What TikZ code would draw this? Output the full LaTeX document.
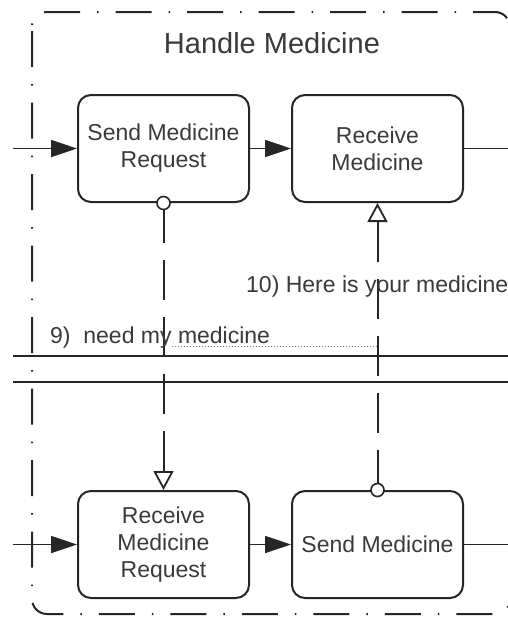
\documentclass[tikz,border=0pt]{standalone}
\usepackage{fontspec}
\setmainfont{Liberation Sans}
\usetikzlibrary{arrows.meta}
\definecolor{ink}{HTML}{262626}
\definecolor{txt}{HTML}{3A3A3A}
\tikzset{
  task/.style={draw=ink, line width=2pt, rounded corners=13pt, minimum width=171pt,
    minimum height=107pt, align=center, font=\fontsize{23}{27}\selectfont, text=txt, inner sep=0pt},
  seqflow/.style={draw=ink, line width=1.8pt, -{Triangle[length=26pt,width=17pt]}},
  plainflow/.style={draw=ink, line width=1.8pt},
  msgflow/.style={draw=ink, line width=2pt, dash pattern=on 40pt off 17pt,
    -{Triangle[open,length=19pt,width=20pt,line width=1.8pt]}},
  msgstart/.style={circle, draw=ink, line width=1.6pt, fill=white, minimum size=13pt, inner sep=0pt},
  lbl/.style={font=\fontsize{23}{27}\selectfont, text=txt, inner sep=0pt},
  poolline/.style={draw=ink, line width=2.2pt},
  groupbox/.style={draw=ink, line width=2pt, rounded corners=15pt,
    dash pattern=on 36pt off 17pt on 1.5pt off 17pt, dash phase=-4pt},
}
\begin{document}
\begin{tikzpicture}[x=1pt, y=-1pt]
  \useasboundingbox[fill=white] (0,0) rectangle (508,619);

  % group frame and its title (right side runs off the page edge)
  \draw[groupbox] (32,12) rectangle (510,614);
  \node[lbl, anchor=base, font=\fontsize{29}{33}\selectfont] (title) at (272,53) {Handle Medicine};

  % pool boundaries
  \coordinate (pa1) at (13,356);
  \coordinate (pa2) at (508,356);
  \coordinate (pb1) at (13,382);
  \coordinate (pb2) at (508,382);
  \draw[poolline] (pa1) -- (pa2);
  \draw[poolline] (pb1) -- (pb2);

  % tasks
  \node[task] (smr) at (163.5,148.5) {Send Medicine\\Request};
  \node[task] (rm)  at (377.5,148.5) {Receive\\Medicine};
  \node[task] (rmr) at (163.5,544.5) {Receive\\Medicine\\Request};
  \node[task] (sm)  at (377.5,544.5) {Send Medicine};

  % sequence flows
  \coordinate (inA)  at (13,148.5);
  \coordinate (outA) at (508,148.5);
  \coordinate (inB)  at (13,544.5);
  \coordinate (outB) at (508,544.5);
  \draw[seqflow] (inA) -- (smr);
  \draw[seqflow] (smr) -- (rm);
  \draw[plainflow] (rm) -- (outA);
  \draw[seqflow] (inB) -- (rmr);
  \draw[seqflow] (rmr) -- (sm);
  \draw[plainflow] (sm) -- (outB);

  % message flows
  \draw[msgflow] (smr.south) -- (rmr.north);
  \draw[msgflow] (sm.north) -- (rm.south);
  \node[msgstart] (c1) at (smr.south) {};
  \node[msgstart] (c2) at (sm.north) {};

  % message labels
  \node[lbl, anchor=base west] (m10) at (246,292) {10) Here is your medicine};
  \coordinate (assocA) at (172,346);
  \coordinate (assocB) at (377.5,346);
  \draw[gray, line width=1pt, dotted] (assocA) -- (assocB);
  \node[lbl, anchor=base west] (m9) at (50,343) {9)\ \ need my medicine};
\end{tikzpicture}
\end{document}
